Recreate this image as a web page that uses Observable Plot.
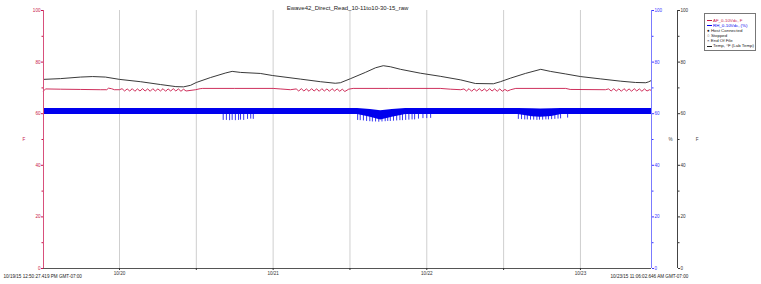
<!DOCTYPE html>
<html><head><meta charset="utf-8">
<script src="https://cdn.jsdelivr.net/npm/d3@7"></script>
<script src="https://cdn.jsdelivr.net/npm/@observablehq/plot@0.6"></script>
<style>
body{margin:0;background:#fff;font-family:"Liberation Sans",Arial,sans-serif;}
#wrap{position:relative;width:761px;height:284px;}
#legend{position:absolute;left:704px;top:13px;width:52px;height:38px;border:1px solid #777;background:#fff;font-size:4.4px;line-height:5.1px;padding-top:4px;box-sizing:border-box;}
#legend div{white-space:nowrap;padding-left:2px;}
#legend span.sw{display:inline-block;width:5px;height:0;border-top:1px solid;vertical-align:middle;margin-right:1px;}
</style></head>
<body><div id="wrap"></div>
<script>
// ---- data (hours relative to 2015-10-20 00:00) ----
const title = "Ewave42_Direct_Read_10-11to10-30-15_raw";
const startLabel = "10/19/15 12:50:27.419 PM GMT-07:00";
const endLabel = "10/23/15 11:06:02.646 AM GMT-07:00";
const domainHours = [-11.87, 83.1];
const gridHours = [0, 12, 24, 36, 48, 60, 72];
const gridLabels = ["10/20", "", "10/21", "", "10/22", "", "10/23"];
const yTicks = [0, 20, 40, 60, 80, 100];
const yMinor = [10, 30, 50, 70, 90];

const tempHours = [-11.87,-9.2,-6.1,-4.2,-2.2,0,3.3,6.4,8.8,10.0,11.1,12.0,14.2,16.6,17.6,18.9,22.0,23.9,28.3,31.4,33.7,34.5,36.1,38.4,40.0,41.2,42.3,43.9,47.0,50.1,53.3,55.6,58.4,59.5,61.1,63.4,65.8,67.3,69.7,72.0,75.1,78.3,80.6,82.2,82.6,83.1];
const tempValues = [73.3,73.6,74.2,74.4,74.2,73.3,72.4,71.3,70.5,70.4,71.0,72.1,74.0,75.8,76.4,76.0,75.6,74.8,73.4,72.4,71.8,72.0,73.6,76.0,77.8,78.6,78.2,77.2,75.7,74.5,73.1,71.7,71.6,72.4,73.8,75.6,77.2,76.4,75.4,74.4,73.5,72.6,72.1,72.0,72.3,72.9];

const afHours = [-11.87,-11.56,-9.2,-6.1,-3.0,-2.0,-1.7,-1.25,-0.8,0,
 0.4,0.8,1.2,1.6,2.0,2.4,2.8,3.2,3.6,4.0,4.4,4.8,5.2,5.6,6.0,6.4,6.8,7.2,7.6,8.0,8.4,8.8,9.2,9.6,10.0,10.4,
 11.9,12.6,13.0,18.0,24.0,25.1,26.7,
 27.6,28.0,28.4,28.8,29.2,29.6,30.0,30.4,30.8,31.2,31.6,32.0,32.4,32.8,33.2,33.6,34.0,34.4,34.8,35.2,
 35.8,36.5,42.0,50.1,51.7,53.3,
 53.8,54.2,54.6,55.0,55.4,55.8,56.2,56.6,57.0,57.4,57.8,58.2,58.6,59.0,59.4,59.8,60.2,60.6,
 61.1,61.9,66.0,69.7,70.4,75.9,
 76.4,76.8,77.2,77.6,78.0,78.4,78.8,79.2,79.6,80.0,80.4,80.8,81.2,81.6,82.0,82.4,82.8,83.1];
const afValues = [68.8,69.6,69.5,69.4,69.3,69.3,69.9,69.7,69.3,69.3,
 69.7,68.8,69.6,68.8,69.7,68.7,69.6,68.8,69.7,68.8,69.6,68.7,69.7,68.8,69.6,68.8,69.7,68.7,69.6,68.8,69.7,68.8,69.6,68.7,69.5,68.8,
 69.3,69.7,69.8,69.8,69.8,69.6,69.3,
 69.6,68.8,69.7,68.8,69.6,68.7,69.7,68.8,69.6,68.7,69.7,68.8,69.6,68.7,69.7,68.8,69.6,68.7,69.5,68.6,
 69.5,69.8,69.8,69.8,69.5,69.3,
 69.6,68.8,69.7,68.7,69.6,68.8,69.7,68.8,69.6,68.7,69.7,68.8,69.6,68.7,69.6,68.7,69.4,68.8,
 69.3,69.8,69.8,69.8,69.4,69.3,
 69.6,68.8,69.7,68.8,69.6,68.7,69.7,68.8,69.6,68.7,69.7,68.8,69.6,68.7,69.6,68.8,69.3,69.0];

const rhHours = [-11.87,37.2,39.2,40.8,42.6,44.7,62.3,64.5,65.8,67.5,69.0,83.1];
const rhLow  = [59.7,59.7,58.6,57.6,58.6,59.7,59.7,58.8,58.6,58.9,59.7,59.7];
const rhHigh = [62.0,62.0,61.6,61.1,61.6,62.0,62.0,61.9,61.8,61.9,62.0,62.0];

const spikeHours = [16.2,16.7,17.2,17.6,18.1,18.6,18.9,19.4,20.0,20.5,20.9,
 37.2,37.6,38.1,38.6,39.1,39.5,40.0,40.5,41.0,41.5,41.9,42.3,42.8,43.3,43.8,44.2,44.7,45.2,45.7,46.1,46.7,47.4,48.0,48.6,
 62.3,62.8,63.3,63.7,64.2,64.7,65.2,65.6,66.1,66.6,67.0,67.5,68.0,68.5,68.9,70.0];
const spikeValues = [57.4,57.4,57.3,57.4,57.3,57.4,57.5,57.4,57.8,57.9,57.8,
 57.4,57.3,57.2,57.0,56.9,56.8,56.8,56.7,56.8,56.9,57.0,57.0,57.1,57.2,57.3,57.3,57.4,57.5,57.6,57.6,57.9,58.1,58.1,58.2,
 57.8,57.7,57.6,57.6,57.5,57.5,57.4,57.5,57.5,57.6,57.6,57.7,57.8,57.9,58.0,58.3];

// ---- build ----
const base = Date.UTC(2015, 9, 20, 0, 0);
const T = h => new Date(base + h * 3600e3);
const temp = tempHours.map((h, i) => ({t: T(h), v: tempValues[i]}));
const af = afHours.map((h, i) => ({t: T(h), v: afValues[i]}));
const rh = rhHours.map((h, i) => ({t: T(h), lo: rhLow[i], hi: rhHigh[i]}));
const spikes = spikeHours.map((h, i) => ({t: T(h), v: spikeValues[i], top: 60.4}));
const grid = gridHours.map((h, i) => ({t: T(h), label: gridLabels[i]}));
const x0 = T(domainHours[0]), x1 = T(domainHours[1]);

const RED = "#c8184a", REDAX = "#d8507c", BLUE = "#0000ee", BLUEAX = "#7b7bff", BLK = "#222";
const fs = 4.6;

const chart = Plot.plot({
  width: 761, height: 284,
  marginLeft: 43, marginRight: 110, marginTop: 10, marginBottom: 16,
  style: {fontFamily: "Liberation Sans, Arial, sans-serif", fontSize: fs + "px", background: "#fff"},
  x: {type: "utc", domain: [x0, x1], axis: null, label: null},
  y: {domain: [0, 100], axis: null, label: null},
  marks: [
    Plot.ruleX(grid, {x: "t", stroke: "#cfcfcf", strokeWidth: 1}),
    Plot.areaY(rh, {x: "t", y1: "lo", y2: "hi", fill: BLUE, curve: "linear"}),
    Plot.ruleX(spikes, {x: "t", y1: "top", y2: "v", stroke: BLUE, strokeWidth: 0.8}),
    Plot.line(af, {x: "t", y: "v", stroke: RED, strokeWidth: 0.9}),
    Plot.line(temp, {x: "t", y: "v", stroke: BLK, strokeWidth: 0.9}),
    // bottom axis
    Plot.ruleY([0], {stroke: "#555"}),
    Plot.axisX({ticks: grid.map(d => d.t), tickFormat: (d, i) => gridLabels[i], tickSize: 2, tickPadding: 1, color: "#333", label: null}),
    // left axis (AF)
    Plot.ruleX([x0], {stroke: REDAX}),
    Plot.axisY({anchor: "left", ticks: yTicks, tickSize: 2, tickPadding: 1, color: RED, label: null}),
    Plot.axisY({anchor: "left", ticks: yMinor, tickSize: 1.5, text: null, color: RED, label: null}),
    // right blue axis (RH)
    Plot.ruleX([x1], {stroke: BLUEAX}),
    Plot.axisY({anchor: "right", ticks: yTicks, tickSize: 2, tickPadding: 1, color: "#3a3aff", label: null}),
    Plot.axisY({anchor: "right", ticks: yMinor, tickSize: 1.5, text: null, color: "#3a3aff", label: null}),
    // right black axis (Temp)
    Plot.ruleX([x1], {stroke: "#444", dx: 26}),
    Plot.axisY({anchor: "right", ticks: yTicks, tickSize: 2, tickPadding: 1, color: "#333", dx: 26, label: null}),
    Plot.axisY({anchor: "right", ticks: yMinor, tickSize: 1.5, text: null, color: "#333", dx: 26, label: null}),
    // texts
    Plot.text([title], {frameAnchor: "top", dy: -5, fontSize: 6, fill: "#222"}),
    Plot.text([startLabel], {frameAnchor: "bottom-left", textAnchor: "start", dx: -40, dy: 9, fill: "#222"}),
    Plot.text([endLabel], {frameAnchor: "bottom-right", textAnchor: "start", dx: -41, dy: 9, fill: "#222"}),
    Plot.text(["F"], {frameAnchor: "left", dx: -21, fill: RED}),
    Plot.text(["%"], {frameAnchor: "right", dx: 21, fill: "#444"}),
    Plot.text(["F"], {frameAnchor: "right", dx: 47, fill: "#444"})
  ]
});
const wrap = document.getElementById("wrap");
wrap.appendChild(chart);

const legendItems = [
  {sym: "line", color: RED, text: "AF_0-10Vdc, F", tc: RED},
  {sym: "line", color: BLUE, text: "RH_0-10Vdc, (%)", tc: BLUE},
  {sym: "●", color: "#222", text: "Host Connected", tc: "#222"},
  {sym: "○", color: "#222", text: "Stopped", tc: "#222"},
  {sym: "×", color: "#222", text: "End Of File", tc: "#222"},
  {sym: "line", color: "#222", text: "Temp, °F (Lab Temp)", tc: "#222"}
];
const lg = document.createElement("div");
lg.id = "legend";
for (const it of legendItems) {
  const row = document.createElement("div");
  row.style.color = it.tc;
  if (it.sym === "line") {
    const s = document.createElement("span");
    s.className = "sw"; s.style.borderTopColor = it.color;
    row.appendChild(s);
  } else {
    const s = document.createElement("span");
    s.textContent = it.sym + " "; s.style.color = it.color;
    row.appendChild(s);
  }
  row.appendChild(document.createTextNode(it.text));
  lg.appendChild(row);
}
wrap.appendChild(lg);
</script></body></html>
